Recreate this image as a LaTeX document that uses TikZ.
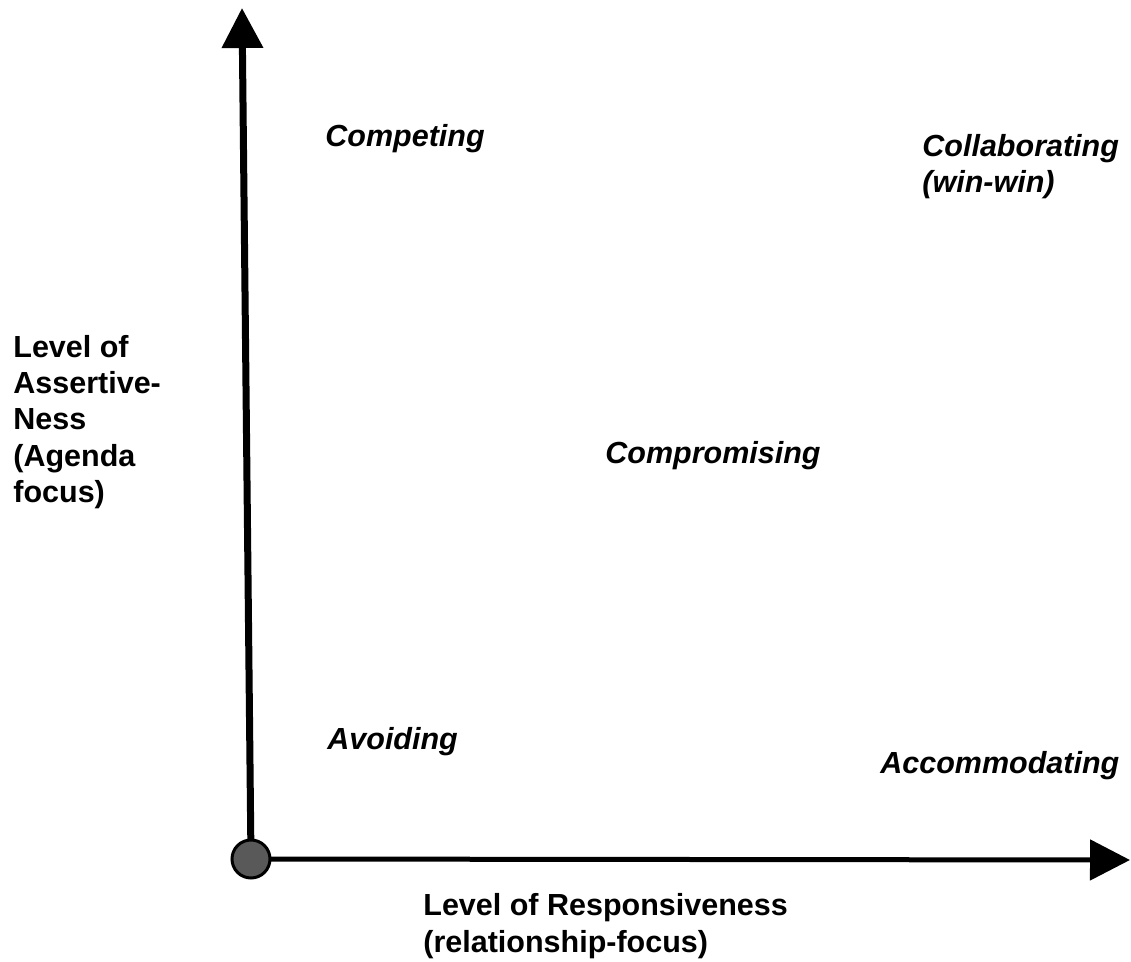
\documentclass[tikz,border=0pt]{standalone}
\usepackage{fontspec}
\setmainfont{Liberation Sans}
\usetikzlibrary{arrows.meta}

\begin{document}
\begin{tikzpicture}[%
    x=0.5pt, y=-0.5pt,
    every edge/.style = {draw, -{Triangle[length=20pt, width=20pt]}},
    axis/.style = {font=\fontsize{15.25}{18.25}\selectfont\bfseries, align=left, inner sep=0pt, anchor=base west},
    quadrant/.style = {axis, font=\fontsize{15.25}{18.25}\selectfont\bfseries\itshape}
]
\useasboundingbox (0,0) rectangle (1131,962);
\coordinate (o) at (251,859);
\coordinate (ytip) at (242,8);
\coordinate (xtip) at (1130,860);
\path
    (o) edge [line width=3.5pt] (ytip)
        edge [line width=2.5pt] (xtip)
    ;
\node (origin) [circle, draw=black, line width=1.5pt, fill=black!65, minimum size=19pt, inner sep=0pt] at (o) {};

% quadrant styles (base of last line)
\node (competing) [quadrant] at (325,147) {Competing};
\node (collab) [quadrant] at (922,193) {Collaborating\\(win-win)};
\node (compromise) [quadrant] at (605,464) {Compromising};
\node (avoiding) [quadrant] at (327,749) {Avoiding};
\node (accommodating) [quadrant] at (880,774) {Accommodating};

% axis labels
\node (ylabel) [axis] at (13,503) {Level of\\Assertive-\\Ness\\(Agenda\\focus)};
\node (xlabel) [axis] at (423,952) {Level of Responsiveness\\(relationship-focus)};
\end{tikzpicture}
\end{document}
